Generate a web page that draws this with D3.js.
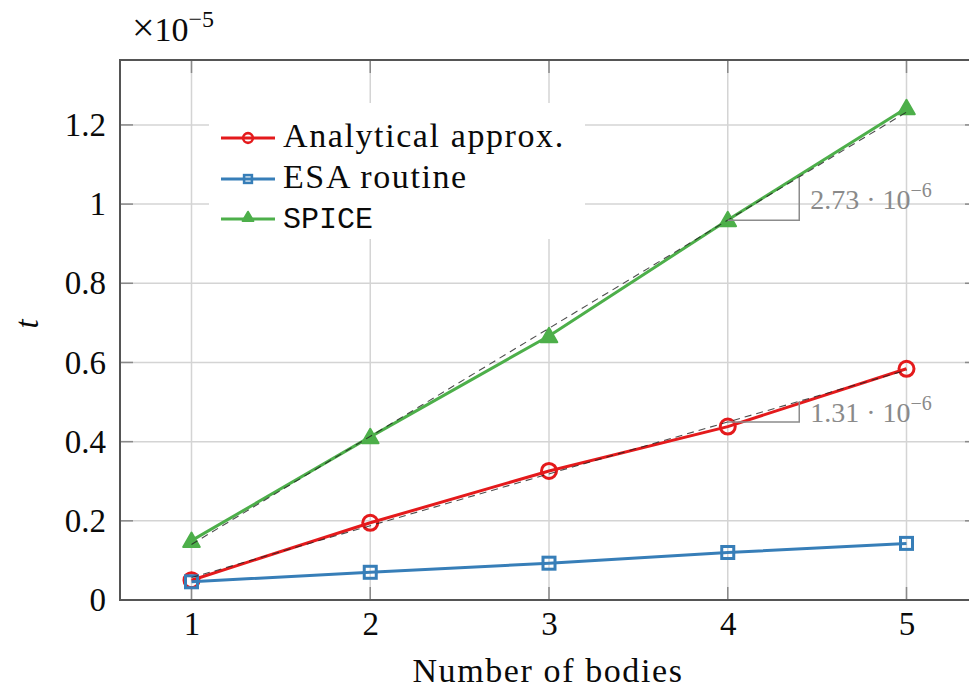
<!DOCTYPE html>
<html>
<head>
<meta charset="utf-8">
<script src="https://cdn.jsdelivr.net/npm/d3@7"></script>
<style>
  html, body { margin: 0; padding: 0; background: #fff; }
  svg { display: block; }
</style>
</head>
<body>
<div id="chart"></div>
<script>
// Computation time per call vs. number of bodies (seconds)
const bodies = [1, 2, 3, 4, 5];
const analytical = [0.050e-5, 0.195e-5, 0.326e-5, 0.438e-5, 0.584e-5];
const esa = [0.046e-5, 0.070e-5, 0.093e-5, 0.120e-5, 0.143e-5];
const spice = [0.150e-5, 0.412e-5, 0.667e-5, 0.960e-5, 1.243e-5];

// Slopes of the linear fits, as printed next to the slope triangles
const fitSlopes = { spice: 2.73e-6, analytical: 1.31e-6 };
const fitLabels = { spice: "2.73", analytical: "1.31" };

const xTicks = [1, 2, 3, 4, 5];
const yTicks = [0, 0.2e-5, 0.4e-5, 0.6e-5, 0.8e-5, 1.0e-5, 1.2e-5];
const yTickLabels = ["0", "0.2", "0.4", "0.6", "0.8", "1", "1.2"];
const seriesNames = ["Analytical approx.", "ESA routine", "SPICE"];

const W = 969, H = 690;
const pL = 120, pT = 60, pB = 600, pR = 978;

const svg = d3.select("#chart").append("svg")
  .attr("width", W).attr("height", H);

const x = d3.scaleLinear().domain([0.6, 5.4]).range([pL, pR]);
const y = d3.scaleLinear().domain([0, 1.364e-5]).range([pB, pT]);

const serif = "'Liberation Serif', 'Times New Roman', serif";
const mono = "'Liberation Mono', 'DejaVu Sans Mono', monospace";
const ink = "#0a0a0a";

// Grid
const grid = svg.append("g");
grid.selectAll("line.gx").data(xTicks).join("line")
  .attr("x1", d => x(d)).attr("x2", d => x(d))
  .attr("y1", pT).attr("y2", pB)
  .attr("stroke", "#d4d4d4").attr("stroke-width", 1.5);
grid.selectAll("line.gy").data(yTicks).join("line")
  .attr("x1", pL).attr("x2", pR)
  .attr("y1", d => y(d)).attr("y2", d => y(d))
  .attr("stroke", "#d4d4d4").attr("stroke-width", 1.5);

// Inward ticks on all four sides
const tl = 13;
const ticks = svg.append("g").attr("stroke", "#8a8a8a").attr("stroke-width", 1.5);
xTicks.forEach(d => {
  ticks.append("line").attr("x1", x(d)).attr("x2", x(d)).attr("y1", pB).attr("y2", pB - tl);
  ticks.append("line").attr("x1", x(d)).attr("x2", x(d)).attr("y1", pT).attr("y2", pT + tl);
});
yTicks.forEach(d => {
  ticks.append("line").attr("x1", pL).attr("x2", pL + tl).attr("y1", y(d)).attr("y2", y(d));
  ticks.append("line").attr("x1", pR).attr("x2", pR - tl).attr("y1", y(d)).attr("y2", y(d));
});

// Axes via d3 (labels only; the frame is drawn separately)
const xAxis = svg.append("g").attr("transform", `translate(0,${pB})`)
  .call(d3.axisBottom(x).tickValues(xTicks).tickSize(0).tickPadding(12).tickFormat(d3.format("d")));
xAxis.select(".domain").remove();
xAxis.selectAll("text").attr("font-family", serif).attr("font-size", 33).attr("fill", ink);

const yAxis = svg.append("g").attr("transform", `translate(${pL},0)`)
  .call(d3.axisLeft(y).tickValues(yTicks).tickSize(0).tickPadding(14)
    .tickFormat((d, i) => yTickLabels[i]));
yAxis.select(".domain").remove();
yAxis.selectAll("text").attr("font-family", serif).attr("font-size", 33).attr("fill", ink);

// Frame
svg.append("rect").attr("x", pL).attr("y", pT)
  .attr("width", pR - pL).attr("height", pB - pT)
  .attr("fill", "none").attr("stroke", "#555").attr("stroke-width", 2);

// Series
const colors = ["#e41a1c", "#377eb8", "#4daf4a"];
const allSeries = [analytical, esa, spice];
const line = d3.line().x((d, i) => x(bodies[i])).y(d => y(d));
const symTri = d3.symbol().type(d3.symbolTriangle);

function marker(g, k, cx, cy, scale) {
  const c = colors[k];
  const sw = 3 * Math.min(1, scale + 0.2);
  if (k === 0) {
    g.append("circle").attr("cx", cx).attr("cy", cy).attr("r", 7.5 * scale)
      .attr("fill", "none").attr("stroke", c).attr("stroke-width", sw);
  } else if (k === 1) {
    const s = 12 * scale;
    g.append("rect").attr("x", cx - s / 2).attr("y", cy - s / 2).attr("width", s).attr("height", s)
      .attr("fill", "none").attr("stroke", c).attr("stroke-width", sw);
  } else {
    g.append("path").attr("d", symTri.size(120 * scale * scale)())
      .attr("transform", `translate(${cx},${cy + 1.5 * scale})`)
      .attr("fill", c).attr("stroke", c).attr("stroke-width", 2).attr("stroke-linejoin", "round");
  }
}

// Linear fits: stated slope, intercept through the data mean
function fitLine(vals, slope) {
  const mx = d3.mean(bodies), my = d3.mean(vals);
  const b = my - slope * mx;
  return v => b + slope * v;
}
const fits = [
  { vals: spice, slope: fitSlopes.spice, label: fitLabels.spice },
  { vals: analytical, slope: fitSlopes.analytical, label: fitLabels.analytical }
];

allSeries.forEach((vals, k) => {
  const g = svg.append("g");
  g.append("path").datum(vals).attr("d", line)
    .attr("fill", "none").attr("stroke", colors[k]).attr("stroke-width", 3)
    .attr("stroke-linejoin", "round");
  vals.forEach((v, i) => marker(g, k, x(bodies[i]), y(v), 1));
});

fits.forEach(f => {
  const fn = fitLine(f.vals, f.slope);
  const x0 = d3.min(bodies), x1 = d3.max(bodies);
  svg.append("line")
    .attr("x1", x(x0)).attr("y1", y(fn(x0)))
    .attr("x2", x(x1)).attr("y2", y(fn(x1)))
    .attr("stroke", "#222").attr("stroke-width", 1.1)
    .attr("stroke-dasharray", "7,5").attr("opacity", 0.8);
  // slope triangle
  const a = 4, b2 = 4.4;
  svg.append("path")
    .attr("d", `M${x(a)},${y(fn(a))}H${x(b2)}V${y(fn(b2))}`)
    .attr("fill", "none").attr("stroke", "#8c8c8c").attr("stroke-width", 1.5);
  const mid = (y(fn(a)) + y(fn(b2))) / 2;
  const t = svg.append("text")
    .attr("x", x(b2) + 11).attr("y", mid + 10)
    .attr("font-family", serif).attr("font-size", 28).attr("fill", "#8a8a8a");
  t.append("tspan").text(f.label + " \u00B7 10");
  t.append("tspan").attr("dy", -12).attr("font-size", 20).text("\u22126");
});

// Legend
const lg = svg.append("g");
lg.append("rect").attr("x", 209).attr("y", 103).attr("width", 376).attr("height", 136)
  .attr("fill", "#fff");
const rows = [147, 188, 228];
seriesNames.forEach((name, k) => {
  const ly = rows[k] - 9;
  lg.append("line").attr("x1", 221).attr("x2", 275).attr("y1", ly).attr("y2", ly)
    .attr("stroke", colors[k]).attr("stroke-width", 3);
  marker(lg, k, 248, ly - (k === 2 ? 2 : 0), 0.65);
  lg.append("text").attr("x", 283).attr("y", rows[k])
    .attr("font-family", k === 2 ? mono : serif)
    .attr("font-size", k === 2 ? 30 : 34)
    .attr("letter-spacing", k === 2 ? 0 : 1.6)
    .attr("fill", ink).text(name);
});

// Axis titles
svg.append("text").attr("x", 548).attr("y", 682).attr("text-anchor", "middle")
  .attr("font-family", serif).attr("font-size", 34).attr("letter-spacing", 1.6)
  .attr("fill", ink).text("Number of bodies");
svg.append("text").attr("transform", "translate(38,324) rotate(-90)")
  .attr("text-anchor", "middle").attr("font-family", serif).attr("font-style", "italic")
  .attr("font-size", 33).attr("fill", ink).text("t");

// Scale factor
const sf = svg.append("text").attr("x", 132).attr("y", 41)
  .attr("font-family", serif).attr("font-size", 34).attr("fill", ink);
sf.append("tspan").attr("font-size", 40).text("\u00D7");
sf.append("tspan").text("10");
sf.append("tspan").attr("dy", -14).attr("font-size", 24).text("\u22125");
</script>
</body>
</html>
